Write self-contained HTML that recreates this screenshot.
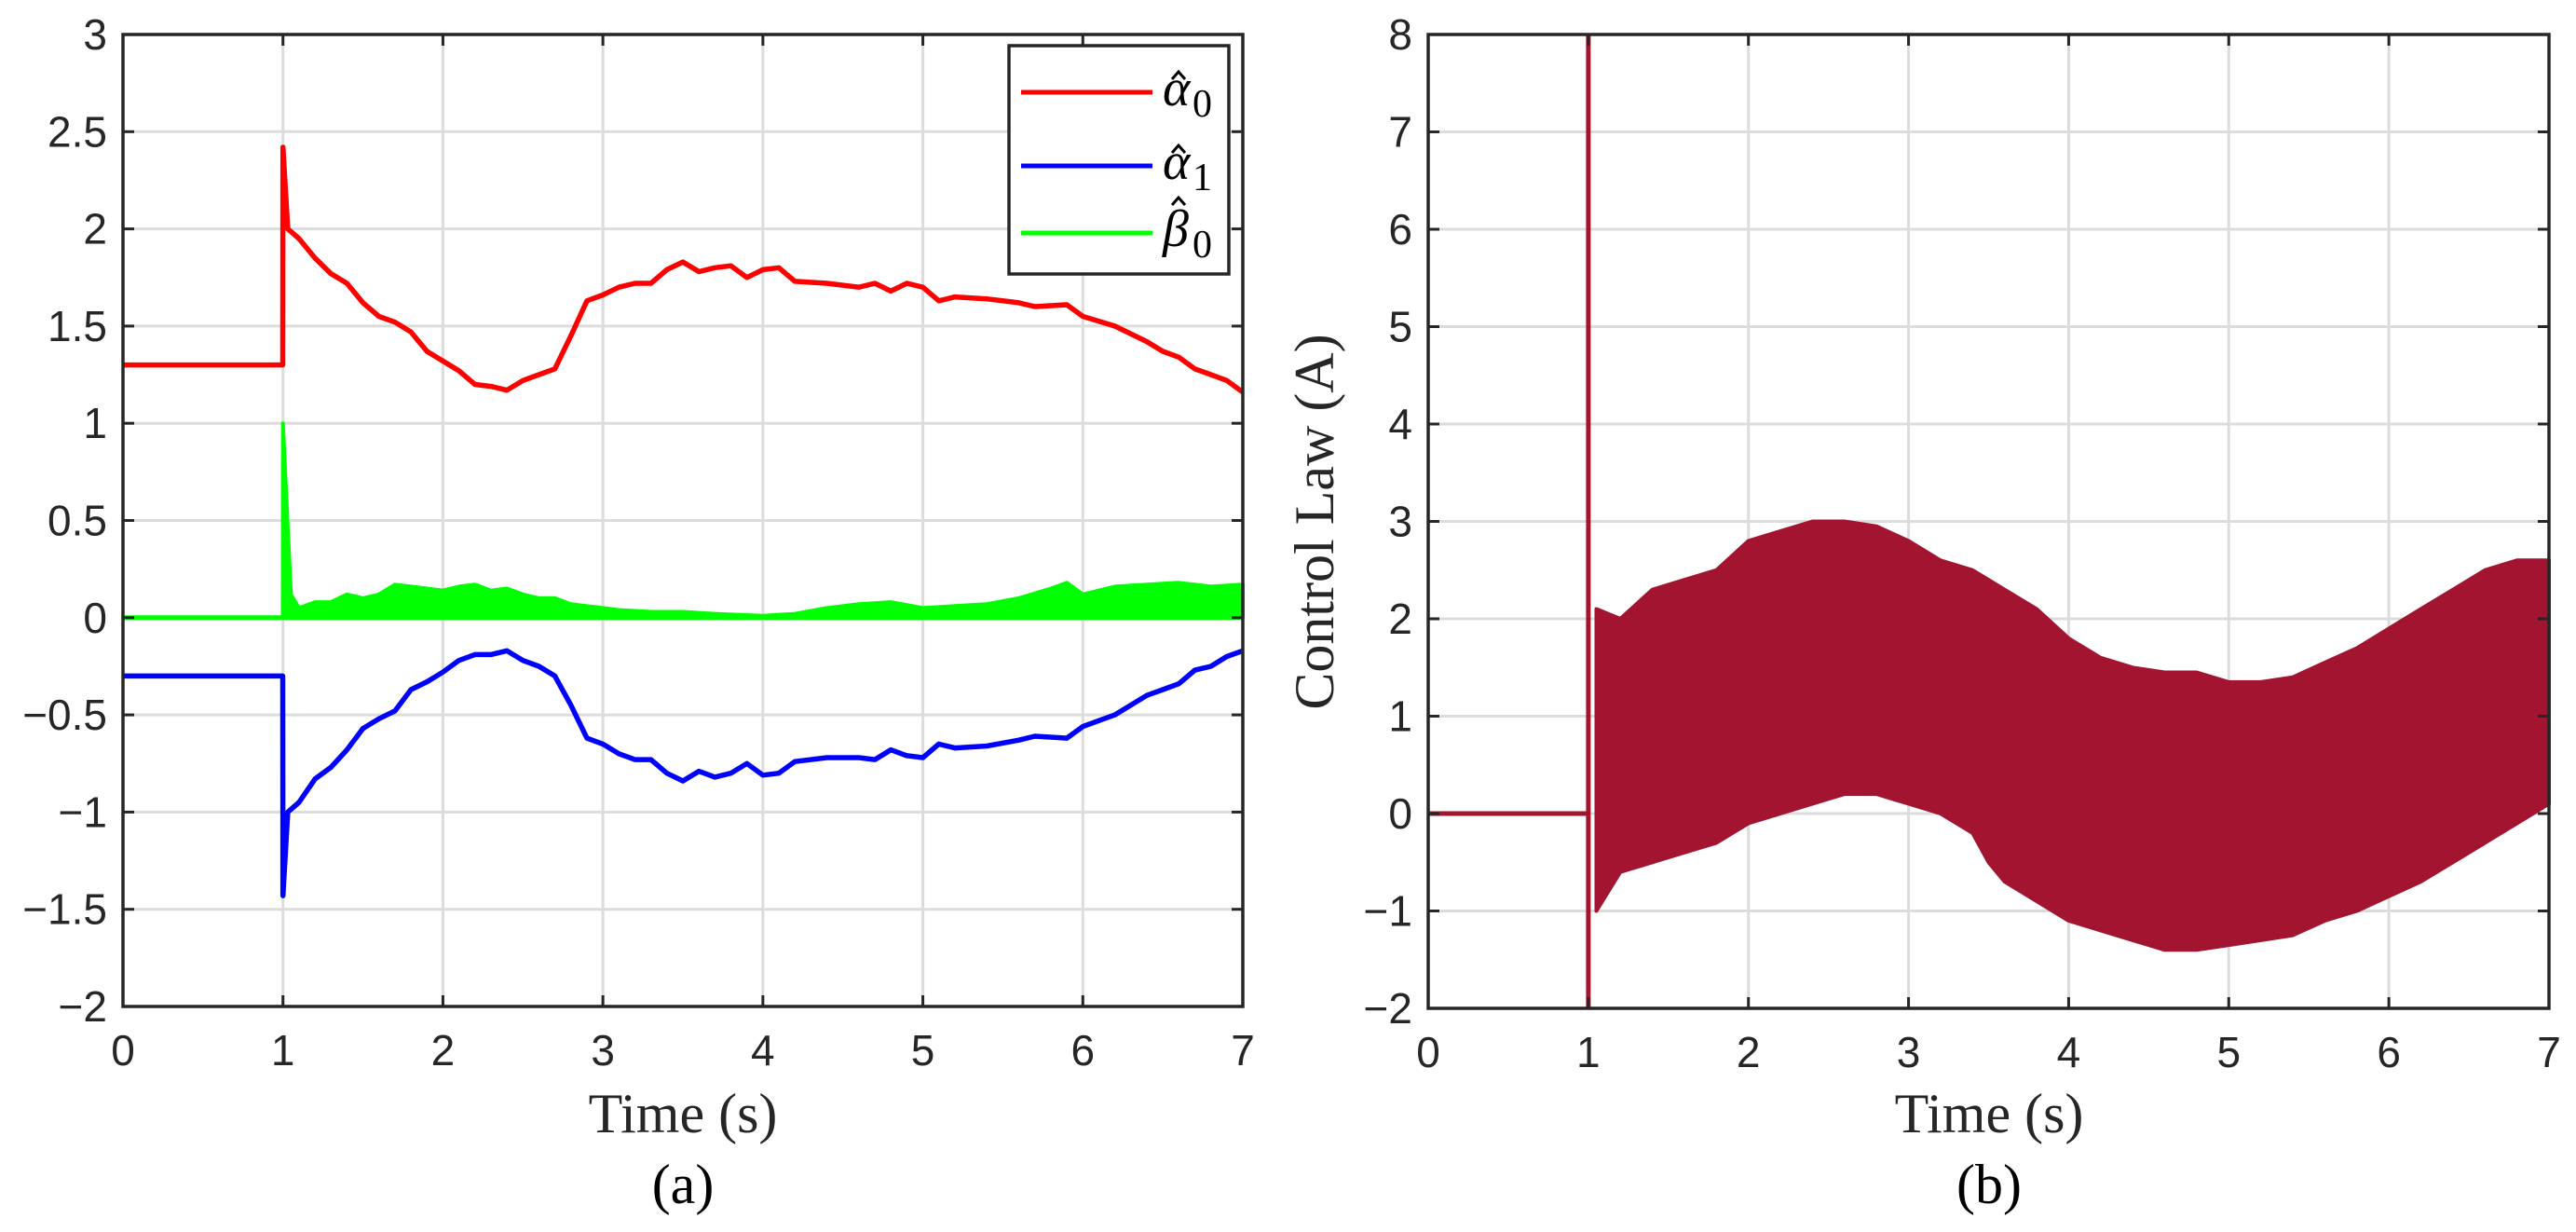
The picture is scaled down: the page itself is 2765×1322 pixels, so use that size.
<!DOCTYPE html>
<html><head><meta charset="utf-8"><style>
html,body{margin:0;padding:0;background:#fff;}
svg{display:block;}
</style></head><body>
<svg id="fig" width="2765" height="1322" viewBox="0 0 2765 1322" xmlns="http://www.w3.org/2000/svg">
<rect x="0" y="0" width="2765" height="1322" fill="#fff"/>
<g id="pa"></g>
<g id="pb"></g>
</svg>
<script>
// Panel (a) data
const aTimes = [0,0.999,1.0,1.03,1.1,1.2,1.3,1.4,1.5,1.6,1.7,1.8,1.9,2.0,2.1,2.2,2.3,2.4,2.5,2.6,2.7,2.8,2.9,3.0,3.1,3.2,3.3,3.4,3.5,3.6,3.7,3.8,3.9,4.0,4.1,4.2,4.4,4.6,4.7,4.8,4.9,5.0,5.1,5.2,5.4,5.6,5.7,5.9,6.0,6.2,6.4,6.5,6.6,6.7,6.8,6.9,7.0];
const alpha0 = [1.3,1.3,2.42,2.0,1.95,1.85,1.77,1.72,1.62,1.55,1.52,1.47,1.37,1.32,1.27,1.2,1.19,1.17,1.22,1.25,1.28,1.45,1.63,1.66,1.7,1.72,1.72,1.79,1.83,1.78,1.8,1.81,1.75,1.79,1.8,1.73,1.72,1.7,1.72,1.68,1.72,1.7,1.63,1.65,1.64,1.62,1.6,1.61,1.55,1.5,1.42,1.37,1.34,1.28,1.25,1.22,1.16];
const alpha1 = [-0.3,-0.3,-1.43,-1.0,-0.95,-0.83,-0.77,-0.68,-0.57,-0.52,-0.48,-0.37,-0.33,-0.28,-0.22,-0.19,-0.19,-0.17,-0.22,-0.25,-0.3,-0.45,-0.62,-0.65,-0.7,-0.73,-0.73,-0.8,-0.84,-0.79,-0.82,-0.8,-0.75,-0.81,-0.8,-0.74,-0.72,-0.72,-0.73,-0.68,-0.71,-0.72,-0.65,-0.67,-0.66,-0.63,-0.61,-0.62,-0.56,-0.5,-0.4,-0.37,-0.34,-0.27,-0.25,-0.2,-0.17];
const bTimes = [0,0.999,1.0,1.05,1.1,1.2,1.3,1.4,1.5,1.6,1.7,1.8,1.9,2.0,2.1,2.2,2.3,2.4,2.5,2.6,2.7,2.8,2.9,3.0,3.1,3.3,3.5,3.7,4.0,4.2,4.4,4.6,4.8,5.0,5.2,5.4,5.6,5.8,5.9,6.0,6.2,6.4,6.6,6.8,7.0];
const beta0 = [0,0,1.0,0.12,0.05,0.08,0.08,0.12,0.1,0.12,0.17,0.16,0.15,0.14,0.16,0.17,0.14,0.15,0.12,0.1,0.1,0.07,0.06,0.05,0.04,0.03,0.03,0.02,0.01,0.02,0.05,0.07,0.08,0.05,0.06,0.07,0.1,0.15,0.18,0.12,0.16,0.17,0.18,0.16,0.17];
const aXTicks = [0,1,2,3,4,5,6,7];
const aYTicks = [-2,-1.5,-1,-0.5,0,0.5,1,1.5,2,2.5,3];
const aYLabels = ["\u22122","\u22121.5","\u22121","\u22120.5","0","0.5","1","1.5","2","2.5","3"];
// Panel (b) data
const uTimes = [1.05,1.2,1.4,1.6,1.8,2.0,2.2,2.4,2.6,2.8,3.0,3.2,3.4,3.5,3.6,3.8,4.0,4.2,4.4,4.6,4.8,5.0,5.2,5.4,5.6,5.8,6.0,6.2,6.4,6.6,6.8,7.0];
const uUpper = [2.1,2.0,2.3,2.4,2.5,2.8,2.9,3.0,3.0,2.95,2.8,2.6,2.5,2.4,2.3,2.1,1.8,1.6,1.5,1.45,1.45,1.35,1.35,1.4,1.55,1.7,1.9,2.1,2.3,2.5,2.6,2.6];
const uLower = [-1.0,-0.6,-0.5,-0.4,-0.3,-0.1,0.0,0.1,0.2,0.2,0.1,0.0,-0.2,-0.5,-0.7,-0.9,-1.1,-1.2,-1.3,-1.4,-1.4,-1.35,-1.3,-1.25,-1.1,-1.0,-0.85,-0.7,-0.5,-0.3,-0.1,0.1];
const uSpike = [8,-2];
const bXTicks = [0,1,2,3,4,5,6,7];
const bYTicks = [-2,-1,0,1,2,3,4,5,6,7,8];
const bYLabels = ["\u22122","\u22121","0","1","2","3","4","5","6","7","8"];

const NS = "http://www.w3.org/2000/svg";
function mk(parent, tag, attrs, text){
  const e = document.createElementNS(NS, tag);
  for (const k in attrs) e.setAttribute(k, attrs[k]);
  if (text !== undefined) e.textContent = text;
  parent.appendChild(e);
  return e;
}
const INK = "#262626";

function axes(g, L, R, T, B, xmin, xmax, ymin, ymax, xt, yt, yl){
  const sx = v => L + (v - xmin) / (xmax - xmin) * (R - L);
  const sy = v => B - (v - ymin) / (ymax - ymin) * (B - T);
  const grid = mk(g, "g", {});
  
  
  xt.forEach(v => { if (v > xmin && v < xmax) mk(grid, "line", {x1:sx(v), x2:sx(v), y1:T, y2:B, stroke:"#dcdcdc", "stroke-width":3}); });
  yt.forEach(v => { if (v > ymin && v < ymax) mk(grid, "line", {x1:L, x2:R, y1:sy(v), y2:sy(v), stroke:"#dcdcdc", "stroke-width":3}); });
  return {sx, sy, draw(){
    const ax = mk(g, "g", {});
    
    
    mk(ax, "rect", {x:L, y:T, width:R-L, height:B-T, fill:"none", stroke:INK, "stroke-width":3.5});
    xt.forEach(v => {
      mk(ax, "line", {x1:sx(v), x2:sx(v), y1:B, y2:B-12, stroke:INK, "stroke-width":3});
      mk(ax, "line", {x1:sx(v), x2:sx(v), y1:T, y2:T+12, stroke:INK, "stroke-width":3});
      const t = mk(ax, "text", {x:sx(v), y:B+63, "text-anchor":"middle", "font-family":"Liberation Sans, sans-serif", "font-size":46, fill:INK}, String(v));
      
      
    });
    yt.forEach((v, i) => {
      mk(ax, "line", {x1:L, x2:L+12, y1:sy(v), y2:sy(v), stroke:INK, "stroke-width":3});
      mk(ax, "line", {x1:R, x2:R-12, y1:sy(v), y2:sy(v), stroke:INK, "stroke-width":3});
      const t = mk(ax, "text", {x:L-17, y:sy(v)+16, "text-anchor":"end", "font-family":"Liberation Sans, sans-serif", "font-size":46, fill:INK}, yl[i]);
      
      
    });
  }};
}

// Panel a
const pa = document.getElementById("pa");
const A = axes(pa, 132, 1334, 37, 1080, 0, 7, -2, 3, aXTicks, aYTicks, aYLabels);
function linePath(xs, ys, ax){ return xs.map((t,i)=>(i?"L":"M")+ax.sx(t).toFixed(1)+","+ax.sy(ys[i]).toFixed(1)).join(""); }
let gd = linePath(bTimes, beta0, A) + "L" + A.sx(7) + "," + A.sy(0) + "L" + A.sx(1) + "," + A.sy(0) + "Z";
const gArea = mk(pa, "path", {d:gd, fill:"#00ff00", stroke:"#00ff00", "stroke-width":4, "stroke-linejoin":"round"});


const gBase = mk(pa, "path", {d:linePath([0,7],[0,0],A), stroke:"#00ff00", "stroke-width":5, fill:"none"});


const rl = mk(pa, "path", {d:linePath(aTimes, alpha0, A), stroke:"#ff0000", "stroke-width":5.5, fill:"none", "stroke-linejoin":"round"});


const bl = mk(pa, "path", {d:linePath(aTimes, alpha1, A), stroke:"#0000ff", "stroke-width":5.5, fill:"none", "stroke-linejoin":"round"});


A.draw();
// legend
const lg = mk(pa, "g", {});


mk(lg, "rect", {x:1083, y:49, width:236, height:245, fill:"#fff", stroke:INK, "stroke-width":3.5});
const legItems = [["#ff0000","\u03b1",99,"0",-22],["#0000ff","\u03b1",178,"1",-22],["#00ff00","\u03b2",250,"0",-38]];
legItems.forEach(([c, sym, y, sub, hy]) => {
  const e = mk(lg, "g", {});
  
  
  mk(e, "line", {x1:1096, x2:1237, y1:y, y2:y, stroke:c, "stroke-width":5});
  mk(e, "text", {x:1248, y:y+14, "font-family":"Liberation Serif, serif", "font-style":"italic", "font-size":56, fill:"#000"}, sym);
  const hat = mk(e, "polyline", {points:`${1258},${y+hy+8} ${1265},${y+hy} ${1272},${y+hy+8}`, fill:"none", stroke:"#000", "stroke-width":3});
  
  
  mk(e, "text", {x:1280, y:y+26, "font-family":"Liberation Serif, serif", "font-size":42, fill:"#000"}, sub);
});
const ta = mk(pa, "text", {x:733, y:1215, "text-anchor":"middle", "font-family":"Liberation Serif, serif", "font-size":60, fill:"#262626"}, "Time (s)");


const ca = mk(pa, "text", {x:733, y:1291, "text-anchor":"middle", "font-family":"Liberation Serif, serif", "font-size":60, fill:"#000"}, "(a)");



// Panel b
const pb = document.getElementById("pb");
const Bx = axes(pb, 1533, 2736, 37, 1082, 0, 7, -2, 8, bXTicks, bYTicks, bYLabels);
const CL = "#a2142f";
const zl = mk(pb, "path", {d:linePath([0,1],[0,0],Bx), stroke:CL, "stroke-width":5, fill:"none"});


const sp = mk(pb, "path", {d:linePath([1,1],uSpike,Bx), stroke:CL, "stroke-width":5, fill:"none"});


let bd = uTimes.map((t,i)=>(i?"L":"M")+Bx.sx(t).toFixed(1)+","+Bx.sy(uUpper[i]).toFixed(1)).join("");
for (let i = uTimes.length - 1; i >= 0; i--) bd += "L" + Bx.sx(uTimes[i]).toFixed(1) + "," + Bx.sy(uLower[i]).toFixed(1);
bd += "Z";
const band = mk(pb, "path", {d:bd, fill:CL, stroke:CL, "stroke-width":4, "stroke-linejoin":"round"});


Bx.draw();
const tb = mk(pb, "text", {x:2135, y:1215, "text-anchor":"middle", "font-family":"Liberation Serif, serif", "font-size":60, fill:"#262626"}, "Time (s)");


const yb = mk(pb, "text", {x:0, y:0, "text-anchor":"middle", "font-family":"Liberation Serif, serif", "font-size":60, fill:"#262626", transform:"translate(1431,560) rotate(-90)"}, "Control Law (A)");


const cb = mk(pb, "text", {x:2135, y:1291, "text-anchor":"middle", "font-family":"Liberation Serif, serif", "font-size":60, fill:"#000"}, "(b)");


</script>
</body></html>
